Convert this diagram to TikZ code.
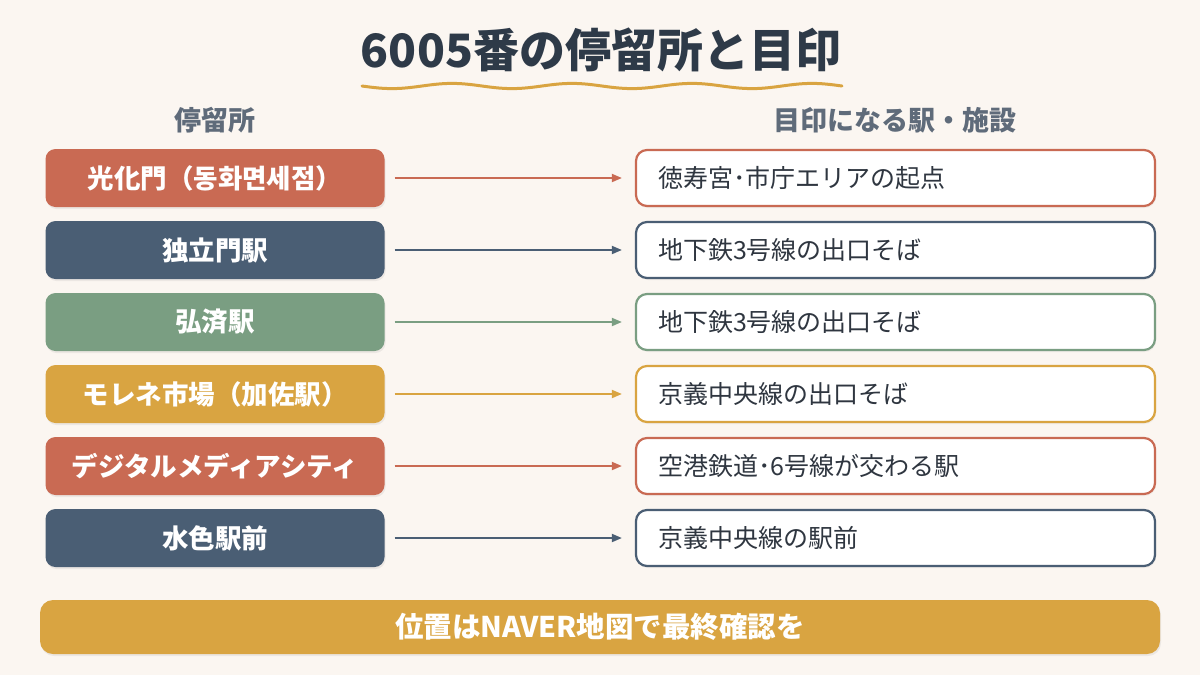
\documentclass[tikz,border=0pt]{standalone}
\usepackage{fontspec}
\setmainfont{Noto Sans CJK JP}
\usetikzlibrary{arrows.meta,shadows}
\definecolor{bg}{HTML}{FBF6F1}
\definecolor{ink}{HTML}{2E3A48}
\definecolor{sub}{HTML}{5F6B7A}
\definecolor{terra}{HTML}{C96A53}
\definecolor{navy}{HTML}{4A5E74}
\definecolor{sage}{HTML}{7A9E82}
\definecolor{gold}{HTML}{D9A441}
\definecolor{txt}{HTML}{2F3640}
\tikzset{
  stopbox/.style={rounded corners=10pt, fill=#1, minimum width=339pt, minimum height=58pt,
    text=white, font=\fontsize{26.5}{30}\selectfont\bfseries, inner sep=0pt,
    drop shadow={shadow xshift=1pt, shadow yshift=-2pt, opacity=0.12}},
  markbox/.style={rounded corners=11pt, draw=#1, line width=2.2pt, fill=white,
    minimum width=519pt, minimum height=56pt, text width=475pt, align=left,
    text=txt, font=\fontsize{25}{29}\selectfont, inner sep=0pt,
    drop shadow={shadow xshift=1pt, shadow yshift=-2pt, opacity=0.08}},
  link/.style={draw=#1, line width=1.8pt, -{Triangle[length=10pt,width=8pt]},
    shorten <=10pt, shorten >=13pt},
  header/.style={text=sub, font=\fontsize{27}{31}\selectfont\bfseries}
}
\begin{document}
\begin{tikzpicture}[x=1pt,y=-1pt]
\fill[bg] (0,0) rectangle (1200,675);
\useasboundingbox (0,0) rectangle (1200,675);
\node[text=ink, font=\fontsize{46}{52}\selectfont\bfseries] (title) at (601,50) {6005番の停留所と目印};
\draw[gold, line width=3pt, line cap=round] plot[domain=362:842, samples=120] (\x, {86 + 2.6*sin((\x-362)*3)});
\node[header] (h1) at (215,120) {停留所};
\node[header] (h2) at (895,120) {目印になる駅・施設};

\node[stopbox=terra] (l1) at (215,178) {光化門（동화면세점）};
\node[stopbox=navy]  (l2) at (215,250) {独立門駅};
\node[stopbox=sage]  (l3) at (215,322) {弘済駅};
\node[stopbox=gold]  (l4) at (215,394) {モレネ市場（加佐駅）};
\node[stopbox=terra] (l5) at (215,466) {デジタルメディアシティ};
\node[stopbox=navy]  (l6) at (215,538) {水色駅前};

\node[markbox=terra] (r1) at (895.5,178) {徳寿宮･市庁エリアの起点};
\node[markbox=navy]  (r2) at (895.5,250) {地下鉄3号線の出口そば};
\node[markbox=sage]  (r3) at (895.5,322) {地下鉄3号線の出口そば};
\node[markbox=gold]  (r4) at (895.5,394) {京義中央線の出口そば};
\node[markbox=terra] (r5) at (895.5,466) {空港鉄道･6号線が交わる駅};
\node[markbox=navy]  (r6) at (895.5,538) {京義中央線の駅前};

\draw[link=terra] (l1) -- (r1);
\draw[link=navy]  (l2) -- (r2);
\draw[link=sage]  (l3) -- (r3);
\draw[link=gold]  (l4) -- (r4);
\draw[link=terra] (l5) -- (r5);
\draw[link=navy]  (l6) -- (r6);

\node[rounded corners=13pt, fill=gold, minimum width=1120pt, minimum height=54pt, inner sep=0pt,
  text=white, font=\fontsize{28.5}{32}\selectfont\bfseries,
  drop shadow={shadow xshift=1pt, shadow yshift=-2pt, opacity=0.12}] (note) at (600,627) {位置はNAVER地図で最終確認を};
\end{tikzpicture}
\end{document}
